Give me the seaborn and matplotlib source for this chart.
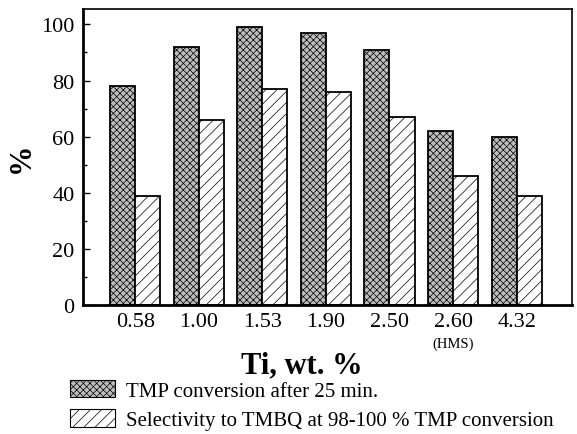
import matplotlib
matplotlib.use("Agg")
import matplotlib.pyplot as plt
import matplotlib.transforms as mtransforms
from matplotlib.patches import Patch
from matplotlib.ticker import MultipleLocator
import seaborn as sns
import pandas as pd

categories = ["0.58", "1.00", "1.53", "1.90", "2.50", "2.60", "4.32"]
conversion = [78, 92, 99, 97, 91, 62, 60]
selectivity = [39, 66, 77, 76, 67, 46, 39]
series_names = ["TMP conversion after 25 min.",
                "Selectivity to TMBQ at 98-100 % TMP conversion"]

df = pd.DataFrame({
    "Ti": categories * 2,
    "value": conversion + selectivity,
    "series": [series_names[0]] * len(categories) + [series_names[1]] * len(categories),
})

sns.set_style("ticks")
plt.rcParams["font.family"] = ["Liberation Serif", "DejaVu Serif"]
plt.rcParams["hatch.linewidth"] = 0.5
for k in ["text.color", "axes.labelcolor", "xtick.color", "ytick.color", "axes.edgecolor"]:
    plt.rcParams[k] = "black"

fig = plt.figure(figsize=(5.77, 4.35), dpi=100)
ax = fig.add_axes([83 / 577, 1 - 306 / 435, (572 - 83) / 577, (306 - 10) / 435])

sns.barplot(data=df, x="Ti", y="value", hue="series", order=categories,
            hue_order=series_names, palette=["#bdbdbd", "white"],
            width=0.79, edgecolor="black", linewidth=1.3, ax=ax, legend=False)

styles = [dict(face="#bdbdbd", hatch="xxxxx"), dict(face="white", hatch="///")]
for cont, st in zip(ax.containers, styles):
    for p in cont:
        p.set_facecolor(st["face"])
        p.set_hatch(st["hatch"])
        p.set_edgecolor("black")

ax.set_ylim(0, 105.5)
ax.set_xlim(-0.82, 6.87)
ax.yaxis.set_major_locator(MultipleLocator(20))
ax.yaxis.set_minor_locator(MultipleLocator(10))
ax.tick_params(axis="y", which="major", direction="in", length=5, width=1, labelsize=16, pad=6)
ax.tick_params(axis="y", which="minor", direction="in", length=3, width=1)
ax.tick_params(axis="x", length=0, labelsize=16, pad=5)
for s in ["left", "bottom"]:
    ax.spines[s].set_linewidth(2)
for s in ["top", "right"]:
    ax.spines[s].set_linewidth(1.2)

ax.set_xlabel("Ti, wt. %", fontsize=22, fontweight="bold", labelpad=15)
ax.xaxis.set_label_coords(0.447, -0.155)
ax.xaxis.label.set_va("top")
ax.set_ylabel("%", fontsize=22, fontweight="bold", labelpad=4)

trans = mtransforms.blended_transform_factory(ax.transData, ax.transAxes)
ax.text(5, -0.128, "(HMS)", transform=trans, ha="center", va="center", fontsize=10.5)

handles = [Patch(facecolor=st["face"], hatch=st["hatch"], edgecolor="black", linewidth=0.8)
           for st in styles]
fig.legend(handles=handles, labels=series_names, loc="upper left",
           bbox_to_anchor=(70 / 577, 1 - 381 / 435), frameon=False,
           fontsize=15, handlelength=2.16, handleheight=0.91, handletextpad=0.55,
           labelspacing=0.4, borderaxespad=0, borderpad=0)

fig.savefig("out.png", dpi=100)
